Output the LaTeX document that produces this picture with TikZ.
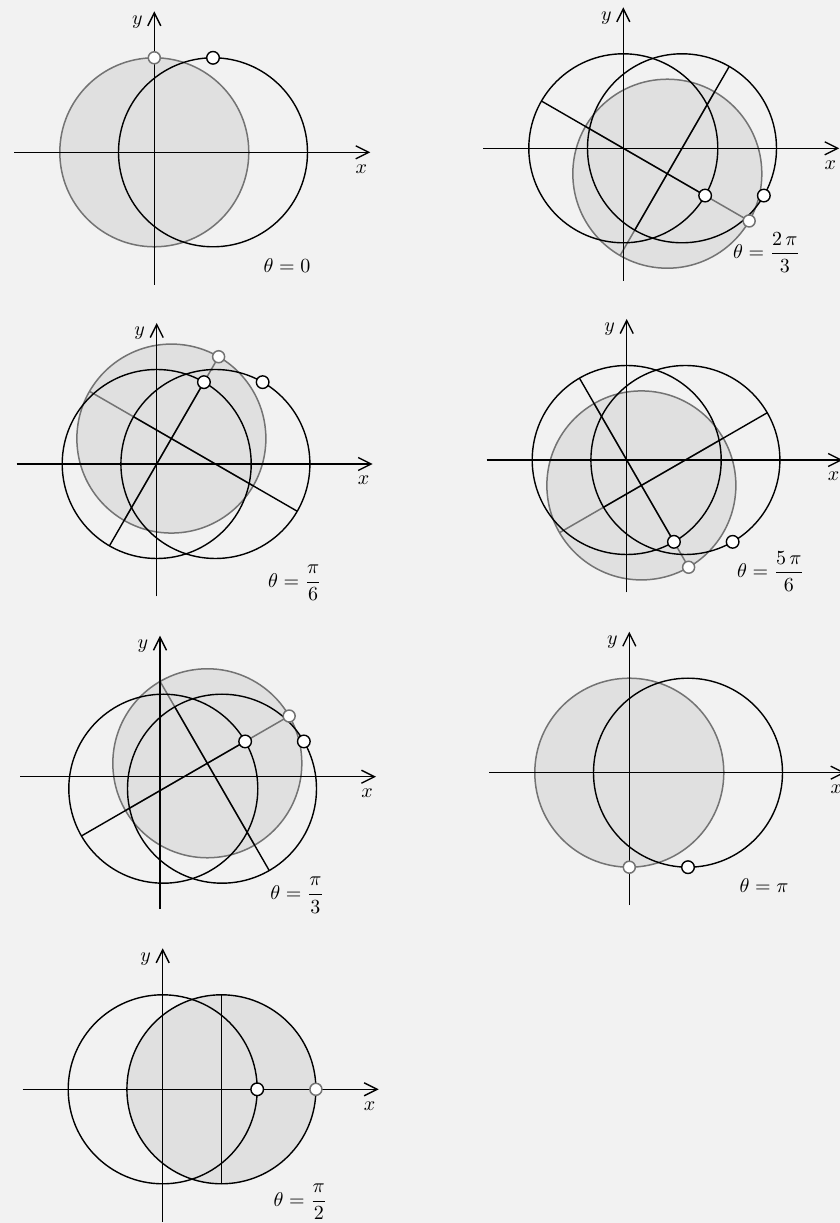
\documentclass[tikz,border=0pt]{standalone}
\usepackage{amsmath}
\usetikzlibrary{calc,arrows.meta}
\def\RR{94.5}
\def\DD{58.7}
\tikzset{
  gfill/.style={fill=black!12},
  gline/.style={draw=black!55, line width=0.75pt},
  bline/.style={draw=black, line width=0.7pt},
  axisline/.style={draw=black, line width=0.7pt, -{Straight Barb[length=6.5pt,width=6.5pt]}},
  wmark/.style={circle, draw=black, fill=white, line width=0.7pt, minimum size=6.3pt, inner sep=0pt},
  gmark/.style={circle, draw=black!55, fill=white, line width=0.75pt, minimum size=6pt, inner sep=0pt},
  lab/.style={inner sep=0pt, font=\normalsize}
}
\newcommand{\drawaxes}[1]{%
  \draw[axisline] (-140,0) -- (216,0);
  \draw[axisline] (0,-132.5) -- (0,141);
  \node[lab] (#1x) at (207,-16.5) {$x$};
  \node[lab] (#1y) at (-17,130.5) {$y$};
}
\newcommand{\rotpanel}[4]{%
  \pgfmathsetmacro{\rvx}{\RR*sin(#2)}%
  \pgfmathsetmacro{\rvy}{\RR*cos(#2)}%
  \pgfmathsetmacro{\rux}{\RR*cos(#2)}%
  \pgfmathsetmacro{\ruy}{-\RR*sin(#2)}%
  \pgfmathsetmacro{\rgx}{\DD*sin(#2)*sin(#2)}%
  \pgfmathsetmacro{\rgy}{\DD*sin(#2)*cos(#2)}%
  \coordinate (#1O) at (0,0);
  \coordinate (#1A) at (\DD,0);
  \coordinate (#1G) at (\rgx,\rgy);
  \fill[gfill] (#1G) circle[radius=\RR];
  \draw[gline] (#1G) circle[radius=\RR];
  \draw[gline] ($(#1G)+(\rvx,\rvy)$) -- ($(#1G)-(\rvx,\rvy)$);
  \draw[gline] ($(#1G)+(\rux,\ruy)$) -- ($(#1G)-(\rux,\ruy)$);
  \begin{scope}[shift={(#3,#4)}]\drawaxes{#1}\end{scope}
  \draw[bline] (#1O) circle[radius=\RR];
  \draw[bline] (#1A) circle[radius=\RR];
  \draw[bline] ($(#1O)+(\rvx,\rvy)$) -- ($(#1O)-(\rvx,\rvy)$);
  \draw[bline] ($(#1A)+(\rux,\ruy)$) -- ($(#1A)-(\rux,\ruy)$);
  \node[gmark] (#1gm) at ($(#1G)+(\rvx,\rvy)$) {};
  \node[wmark] (#1wm) at ($(#1O)+(\rvx,\rvy)$) {};
  \node[wmark] (#1am) at ($(#1A)+(\rvx,\rvy)$) {};
}
\begin{document}
\begin{tikzpicture}[x=0.5pt,y=0.5pt]
\useasboundingbox (0,0) rectangle (840,1223);
\fill[black!5] (0,0) rectangle (840,1223);

% theta = 0
\begin{scope}[shift={(154.3,1070.7)}]
  \coordinate (aO) at (0,0);
  \coordinate (aA) at (\DD,0);
  \fill[gfill] (aO) circle[radius=\RR];
  \draw[gline] (aO) circle[radius=\RR];
  \drawaxes{a}
  \draw[bline] (aA) circle[radius=\RR];
  \node[gmark] (agm) at (0,\RR) {};
  \node[wmark] (awm) at (\DD,\RR) {};
  \node[lab,anchor=base west] (at) at (109,-120.4) {$\theta=0$};
\end{scope}

% theta = 2pi/3
\begin{scope}[shift={(623.3,1074.7)}]
  \rotpanel{b}{120}{0}{0}
  \node[lab,anchor=mid west] (bt) at (109.4,-106) {$\theta=\dfrac{2\,\pi}{3}$};
\end{scope}

% theta = pi/6
\begin{scope}[shift={(156.7,759)}]
  \rotpanel{c}{30}{0}{0}
  \node[lab,anchor=mid west] (ct) at (111,-118.7) {$\theta=\dfrac{\pi}{6}$};
\end{scope}

% theta = 5pi/6
\begin{scope}[shift={(626.7,763)}]
  \rotpanel{d}{150}{0}{0}
  \node[lab,anchor=mid west] (dt) at (110,-113.3) {$\theta=\dfrac{5\,\pi}{6}$};
\end{scope}

% theta = pi/3
\begin{scope}[shift={(163.3,434.3)}]
  \rotpanel{e}{60}{-3.3}{12}
  \node[lab,anchor=mid west] (et) at (106.7,-106.3) {$\theta=\dfrac{\pi}{3}$};
\end{scope}

% theta = pi
\begin{scope}[shift={(629.3,450.3)}]
  \coordinate (fO) at (0,0);
  \coordinate (fA) at (\DD,0);
  \fill[gfill] (fO) circle[radius=\RR];
  \draw[gline] (fO) circle[radius=\RR];
  \drawaxes{f}
  \draw[bline] (fA) circle[radius=\RR];
  \node[gmark] (fgm) at (0,-\RR) {};
  \node[wmark] (fwm) at (\DD,-\RR) {};
  \node[lab,anchor=base west] (ft) at (110,-120) {$\theta=\pi$};
\end{scope}

% theta = pi/2
\begin{scope}[shift={(162.7,133.7)}]
  \coordinate (gO) at (0,0);
  \coordinate (gA) at (\DD,0);
  \fill[gfill] (gA) circle[radius=\RR];
  \drawaxes{g}
  \draw[bline] (gO) circle[radius=\RR];
  \draw[bline] (gA) circle[radius=\RR];
  \draw[bline] ($(gA)+(0,\RR)$) -- ($(gA)-(0,\RR)$);
  \node[wmark] (gwm) at (\RR,0) {};
  \node[gmark] (ggm) at ($(gA)+(\RR,0)$) {};
  \node[lab,anchor=mid west] (gt) at (110.6,-112.4) {$\theta=\dfrac{\pi}{2}$};
\end{scope}
\end{tikzpicture}
\end{document}
